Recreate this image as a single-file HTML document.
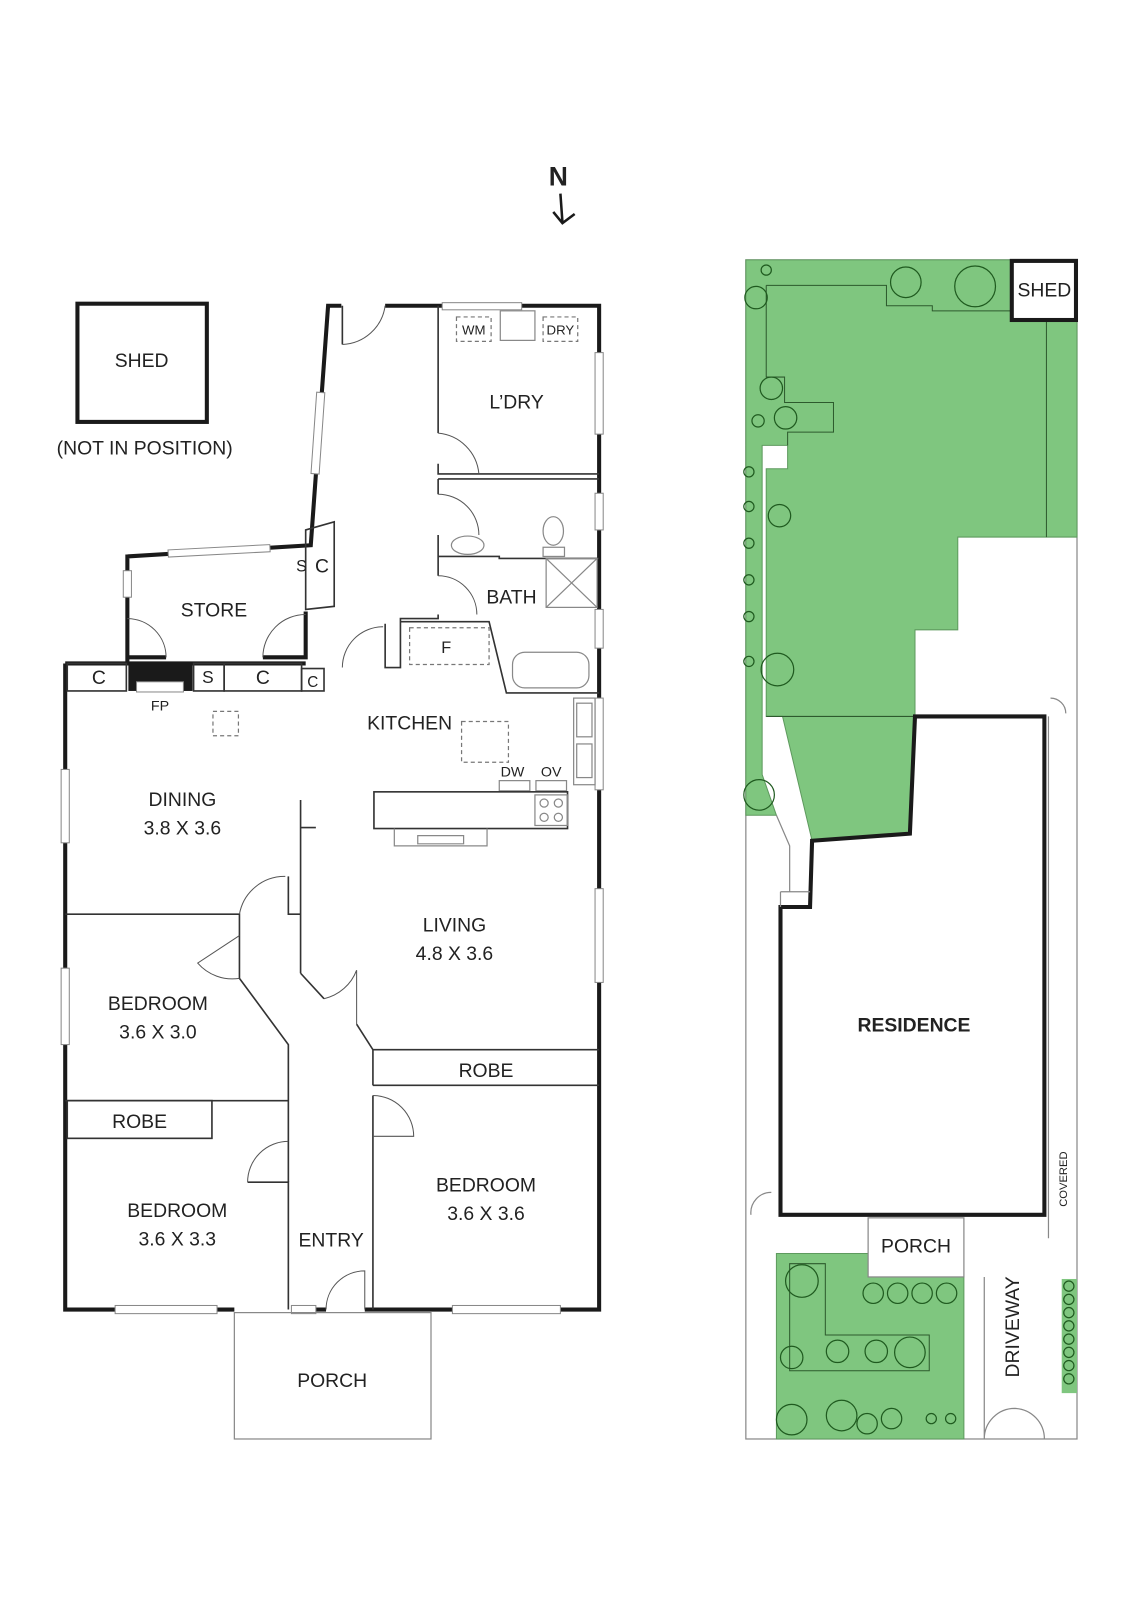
<!DOCTYPE html>
<html><head><meta charset="utf-8"><style>
html,body{margin:0;padding:0;background:#fff}
svg{display:block}
text{font-family:"Liberation Sans",sans-serif;fill:#222;font-size:19px;text-anchor:middle}
.w{stroke:#1a1a1a;stroke-width:4;fill:none}
.t{stroke:#333;stroke-width:1.6;fill:none}
.g{stroke:#888;stroke-width:1.2;fill:none}
.d{stroke:#555;stroke-width:1;fill:none}
.dash{stroke:#777;stroke-width:1.2;fill:none;stroke-dasharray:4 3}
.tree{fill:none;stroke:#1f5a1f;stroke-width:1.2}
.win{fill:#fff;stroke:#888;stroke-width:1}
</style></head><body>
<svg width="1131" height="1600" viewBox="0 0 1110 1570" preserveAspectRatio="none" xmlns="http://www.w3.org/2000/svg">
<text x="548" y="182" style="font-size:26px;font-weight:bold">N</text>
<path d="M550 190 L552 218 M543 208 L552 219 L564 210" class="w" style="stroke-width:2.5"/>

<rect x="76" y="298" width="127" height="116" class="w"/>
<text x="139" y="360">SHED</text>
<text x="142" y="446">(NOT IN POSITION)</text>

<path class="w" d="M335 300 L322 300 L305 535 L125 546 L125 640 M125 645 L163 645 M64 651 L125 651 L125 640 M64 651 L64 1285 L230 1285 M300 1285 L320 1285 M358 1285 L588 1285 L588 300 L378 300"/>
<path class="w" d="M258 645 L300 645 L300 600"/>
<path class="w" d="M125 651 L300 651"/>
<rect class="win" x="308" y="385" width="8" height="80" transform="rotate(4 312 425)"/>
<rect class="win" x="165" y="537" width="100" height="7" transform="rotate(-3 215 540)"/>
<rect class="win" x="121" y="560" width="8" height="26"/>
<rect class="win" x="434" y="297" width="78" height="7"/>
<rect class="win" x="584" y="346" width="8" height="80"/>
<rect class="win" x="584" y="484" width="8" height="36"/>
<rect class="win" x="584" y="598" width="8" height="38"/>
<rect class="win" x="584" y="685" width="8" height="90"/>
<rect class="win" x="584" y="872" width="8" height="92"/>
<rect class="win" x="60" y="755" width="8" height="72"/>
<rect class="win" x="60" y="950" width="8" height="75"/>
<rect class="win" x="113" y="1281" width="100" height="8"/>
<rect class="win" x="444" y="1281" width="106" height="8"/>
<rect class="win" x="286" y="1281" width="24" height="8"/>

<path class="t" d="M430 300 L430 425 M430 455 L430 465 L588 465 M430 470 L588 470 M430 470 L430 485 M430 525 L430 546 L490 546 L490 548 L588 548 M430 546 L430 565 M430 603 L430 607 L393 607 L393 655 L378 655 L378 612 M393 610 L480 610 L497 680 L588 680"/>
<path class="t" d="M336 300 L336 338"/>
<path class="d" d="M336 338 A44 44 0 0 0 378 300"/>
<path class="d" d="M430 425 A44 44 0 0 1 470 465"/>
<path class="d" d="M430 485 A40 40 0 0 1 470 525"/>
<path class="d" d="M430 565 A38 38 0 0 1 468 603"/>
<path class="d" d="M163 645 A38 38 0 0 0 125 607"/>
<path class="d" d="M258 645 A42 42 0 0 1 300 603"/>
<path class="d" d="M336 655 A40 40 0 0 1 376 615"/>
<rect class="dash" x="448" y="311" width="34" height="24"/>
<text x="465" y="328" style="font-size:13px">WM</text>
<rect class="g" x="491" y="305" width="34" height="29"/>
<rect class="dash" x="533" y="311" width="34" height="24"/>
<text x="550" y="328" style="font-size:13px">DRY</text>
<text x="507" y="401">L’DRY</text>
<ellipse class="g" cx="459" cy="535" rx="16" ry="9"/>
<ellipse class="g" cx="543" cy="521" rx="10" ry="14"/>
<rect class="g" x="533" y="537" width="21" height="9"/>
<rect class="g" x="536" y="548" width="50" height="48"/>
<path class="g" d="M536 548 L586 596 M586 548 L536 596"/>
<rect class="g" x="503" y="640" width="75" height="35" rx="12"/>
<text x="502" y="592">BATH</text>
<rect class="dash" x="402" y="616" width="78" height="36"/>
<text x="438" y="641" style="font-size:16px">F</text>
<path class="t" d="M300 520 L328 512 L328 595 L300 598 Z"/>
<text x="296" y="561" style="font-size:16px">S</text>
<text x="316" y="562">C</text>
<text x="210" y="605">STORE</text>
<rect class="t" x="66" y="651" width="58" height="27"/>
<text x="97" y="671">C</text>
<rect class="t" x="190" y="651" width="30" height="27"/>
<text x="204" y="670" style="font-size:17px">S</text>
<rect class="t" x="220" y="651" width="76" height="27"/>
<text x="258" y="671">C</text>
<rect class="t" x="296" y="656" width="22" height="22"/>
<text x="307" y="674" style="font-size:15px">C</text>
<rect x="126" y="653" width="63" height="25" fill="#1a1a1a"/>
<rect x="134" y="669" width="46" height="10" style="fill:#fff;stroke:#888;stroke-width:1"/>
<text x="157" y="697" style="font-size:14px">FP</text>
<rect class="dash" x="209" y="698" width="25" height="24"/>
<text x="402" y="716">KITCHEN</text>
<rect class="dash" x="453" y="708" width="46" height="40"/>
<rect class="g" x="563" y="685" width="21" height="85"/>
<rect class="g" x="566" y="690" width="15" height="33"/>
<rect class="g" x="566" y="730" width="15" height="33"/>
<rect class="g" x="490" y="766" width="30" height="10"/>
<rect class="g" x="526" y="766" width="30" height="10"/>
<text x="503" y="762" style="font-size:14px">DW</text>
<text x="541" y="762" style="font-size:14px">OV</text>
<rect class="t" x="367" y="777" width="190" height="36"/>
<rect class="g" x="525" y="780" width="32" height="30"/>
<circle class="g" cx="534" cy="788" r="4"/><circle class="g" cx="548" cy="788" r="4"/>
<circle class="g" cx="534" cy="802" r="4"/><circle class="g" cx="548" cy="802" r="4"/>
<path class="g" d="M387 813 L387 830 L478 830 L478 813 M410 820 L455 820 L455 828 L410 828 Z"/>
<text x="179" y="791">DINING</text>
<text x="179" y="819">3.8 X 3.6</text>
<path class="t" d="M295 785 L295 897 M295 812 L310 812 M64 897 L235 897 L235 918 M283 860 L283 897 L295 897 M295 897 L295 955"/>
<path class="d" d="M235 897 A45 45 0 0 1 280 860"/>
<text x="446" y="914">LIVING</text>
<text x="446" y="942">4.8 X 3.6</text>
<path class="t" d="M235 918 L235 960 L283 1025 L283 1160 M295 955 L318 980 M350 1005 L366 1030 L366 1065"/>
<path class="d" d="M235 960 A45 45 0 0 1 194 945 L235 918"/>
<path class="d" d="M318 980 A45 45 0 0 0 350 952 L350 1005"/>
<text x="155" y="991">BEDROOM</text>
<text x="155" y="1019">3.6 X 3.0</text>
<path class="t" d="M64 1080 L283 1080"/>
<rect class="t" x="66" y="1080" width="142" height="37"/>
<text x="137" y="1107">ROBE</text>
<path class="t" d="M366 1030 L588 1030 M366 1065 L588 1065"/>
<text x="477" y="1057">ROBE</text>
<path class="t" d="M366 1075 L366 1285 M243 1160 L283 1160 L283 1285"/>
<path class="d" d="M243 1160 A40 40 0 0 1 283 1120"/>
<path class="d" d="M366 1075 A40 40 0 0 1 406 1115 L366 1115"/>
<path class="d" d="M320 1285 A38 38 0 0 1 358 1247 L358 1285"/>
<text x="174" y="1194">BEDROOM</text>
<text x="174" y="1222">3.6 X 3.3</text>
<text x="477" y="1169">BEDROOM</text>
<text x="477" y="1197">3.6 X 3.6</text>
<text x="325" y="1223">ENTRY</text>
<rect class="g" x="230" y="1288" width="193" height="124"/>
<text x="326" y="1361">PORCH</text>

<!-- SITE PLAN -->
<rect x="732" y="255" width="325" height="1157" class="g"/>
<path fill="#7fc67f" stroke="#5e9a5e" stroke-width="1" d="M732 255 L993 255 L993 315 L1057 315 L1057 527 L940 527 L940 618 L898 618 L898 703 L893 818 L797 825 L768 703 L752 703 L752 460 L773 460 L773 437 L748 437 L748 760 L762 800 L732 800 Z"/>
<path class="d" style="stroke:#2d5a2d" d="M752 703 L898 703 M752 280 L870 280 L870 300 L915 300 L915 305 L993 305 M752 280 L752 370 L770 370 L770 395 L818 395 L818 424 L773 424 L773 437 M1027 315 L1027 527"/>
<path class="w" d="M898 703 L1025 703 L1025 1192 L766 1192 L766 890 L795 890 L797 825 L893 818 Z"/>
<path class="g" d="M766 875 L795 875 M766 890 L766 875"/>
<rect x="993" y="256" width="63" height="58" class="w" style="fill:#fff"/>
<text x="1025" y="291">SHED</text>
<text x="897" y="1012" style="font-weight:bold">RESIDENCE</text>
<path class="g" d="M1029 703 L1029 1215 M1031 685 A15 15 0 0 1 1046 700 M737 1192 A20 20 0 0 1 757 1170 M762 800 L775 830 L775 875"/>
<text x="1047" y="1157" transform="rotate(-90 1047 1157)" style="font-size:11px">COVERED</text>
<rect x="762" y="1230" width="184" height="182" fill="#7fc67f" stroke="#5e9a5e"/>
<path class="d" style="stroke:#2d5a2d" d="M775 1240 L810 1240 L810 1310 L912 1310 L912 1345 L775 1345 Z"/>
<rect x="852" y="1195" width="94" height="58" style="fill:#fff;stroke:#888;stroke-width:1.2"/>
<text x="899" y="1229">PORCH</text>
<text x="1000" y="1302" transform="rotate(-90 1000 1302)">DRIVEWAY</text>
<path class="g" d="M966 1253 L966 1412 M966 1412 A30 30 0 0 1 996 1382 M1025 1412 A30 30 0 0 0 996 1382"/>
<rect x="1042" y="1255" width="15" height="112" fill="#7fc67f"/>
<g class="tree">
<circle cx="752" cy="265" r="5"/><circle cx="742" cy="292" r="11"/><circle cx="889" cy="277" r="15"/><circle cx="957" cy="281" r="20"/>
<circle cx="757" cy="381" r="11"/><circle cx="744" cy="413" r="6"/><circle cx="771" cy="410" r="11"/>
<circle cx="735" cy="463" r="5"/><circle cx="735" cy="497" r="5"/><circle cx="735" cy="533" r="5"/><circle cx="735" cy="569" r="5"/><circle cx="735" cy="605" r="5"/><circle cx="735" cy="649" r="5"/>
<circle cx="765" cy="506" r="11"/><circle cx="763" cy="657" r="16"/><circle cx="745" cy="780" r="15"/>
<circle cx="787" cy="1257" r="16"/><circle cx="857" cy="1269" r="10"/><circle cx="881" cy="1269" r="10"/><circle cx="905" cy="1269" r="10"/><circle cx="929" cy="1269" r="10"/>
<circle cx="777" cy="1332" r="11"/><circle cx="822" cy="1326" r="11"/><circle cx="860" cy="1326" r="11"/><circle cx="893" cy="1327" r="15"/>
<circle cx="777" cy="1393" r="15"/><circle cx="826" cy="1389" r="15"/><circle cx="851" cy="1397" r="10"/><circle cx="875" cy="1392" r="10"/><circle cx="914" cy="1392" r="5"/><circle cx="933" cy="1392" r="5"/>
<circle cx="1049" cy="1262" r="5"/><circle cx="1049" cy="1275" r="5"/><circle cx="1049" cy="1288" r="5"/><circle cx="1049" cy="1301" r="5"/><circle cx="1049" cy="1314" r="5"/><circle cx="1049" cy="1327" r="5"/><circle cx="1049" cy="1340" r="5"/><circle cx="1049" cy="1353" r="5"/>
</g>
</svg>
</body></html>
